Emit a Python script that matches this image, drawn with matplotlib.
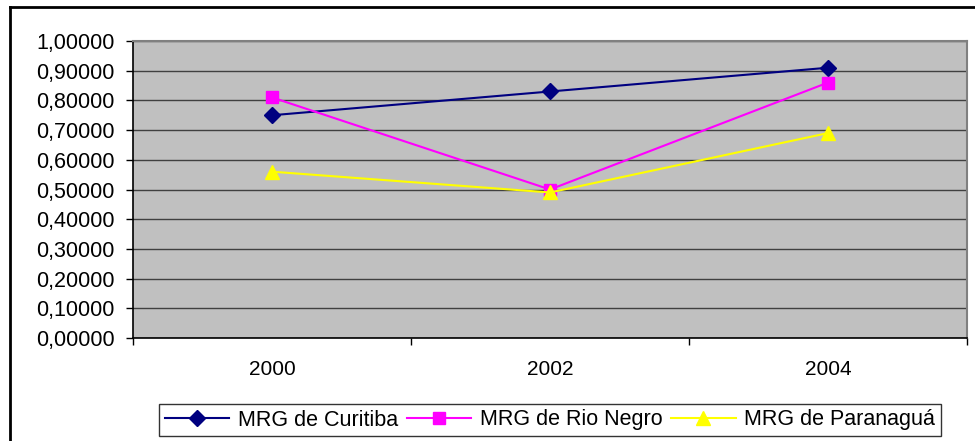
import matplotlib
matplotlib.use("Agg")
import matplotlib.pyplot as plt
from matplotlib.lines import Line2D
from matplotlib.ticker import FuncFormatter

years = ["2000", "2002", "2004"]
curitiba = [0.75, 0.83, 0.91]
rio_negro = [0.81, 0.50, 0.86]
paranagua = [0.56, 0.49, 0.69]
series_names = ["MRG de Curitiba", "MRG de Rio Negro", "MRG de Paranaguá"]
y_ticks = [0.0, 0.1, 0.2, 0.3, 0.4, 0.5, 0.6, 0.7, 0.8, 0.9, 1.0]

plt.rcParams['font.family'] = ['Liberation Sans', 'DejaVu Sans']

W, H = 975, 441
fig = plt.figure(figsize=(W / 100, H / 100), dpi=100)
fig.patch.set_facecolor("white")

L, T, R, B = 133, 41, 967, 338
ax = fig.add_axes([L / W, 1 - B / H, (R - L) / W, (B - T) / H])
ax.set_facecolor("#C0C0C0")

x = list(range(len(years)))
ax.plot(x, curitiba, color="#000080", lw=1.5, marker="D", ms=8, label=series_names[0])
ax.plot(x, rio_negro, color="#FF00FF", lw=1.5, marker="s", ms=8.5, label=series_names[1])
ax.plot(x, paranagua, color="#FFFF00", lw=1.5, marker="^", ms=9.5, label=series_names[2])

ax.set_xlim(-0.5, len(years) - 0.5)
ax.set_ylim(0, 1.0)
ax.set_yticks(y_ticks)
ax.yaxis.set_major_formatter(FuncFormatter(lambda v, p: f"{v:.5f}".replace(".", ",")))
ax.yaxis.grid(True, color="#404040", lw=1.0)
ax.set_axisbelow(True)

ax.set_xticks([i - 0.5 for i in range(len(years) + 1)])
ax.set_xticklabels([""] * (len(years) + 1))
ax.set_xticks(x, minor=True)
ax.set_xticklabels(years, minor=True)
ax.tick_params(axis="x", which="minor", length=0, pad=16, labelsize=15)
ax.tick_params(axis="x", which="major", length=5, width=1, color="black", direction="out")
ax.tick_params(axis="y", length=5, width=1, color="black", direction="out", pad=8, labelsize=15.5)

for s in ["top", "right"]:
    ax.spines[s].set_color("#808080")
    ax.spines[s].set_linewidth(1.5)
for s in ["left", "bottom"]:
    ax.spines[s].set_color("black")
    ax.spines[s].set_linewidth(1.2)

leg = fig.legend(loc="center", bbox_to_anchor=(550 / W, 1 - 420 / H), ncol=3,
                 frameon=True, fancybox=False, edgecolor="black", fontsize=15.5,
                 handlelength=3.0, columnspacing=0.4, handletextpad=0.4,
                 borderpad=0.25, borderaxespad=0)
leg.get_frame().set_linewidth(1.0)

fx = 10 / W
fy = 1 - 7 / H
fig.add_artist(Line2D([fx, fx], [0, fy], transform=fig.transFigure, color="black", lw=2))
fig.add_artist(Line2D([fx, 1], [fy, fy], transform=fig.transFigure, color="black", lw=2))

fig.savefig("out.png", dpi=100)
